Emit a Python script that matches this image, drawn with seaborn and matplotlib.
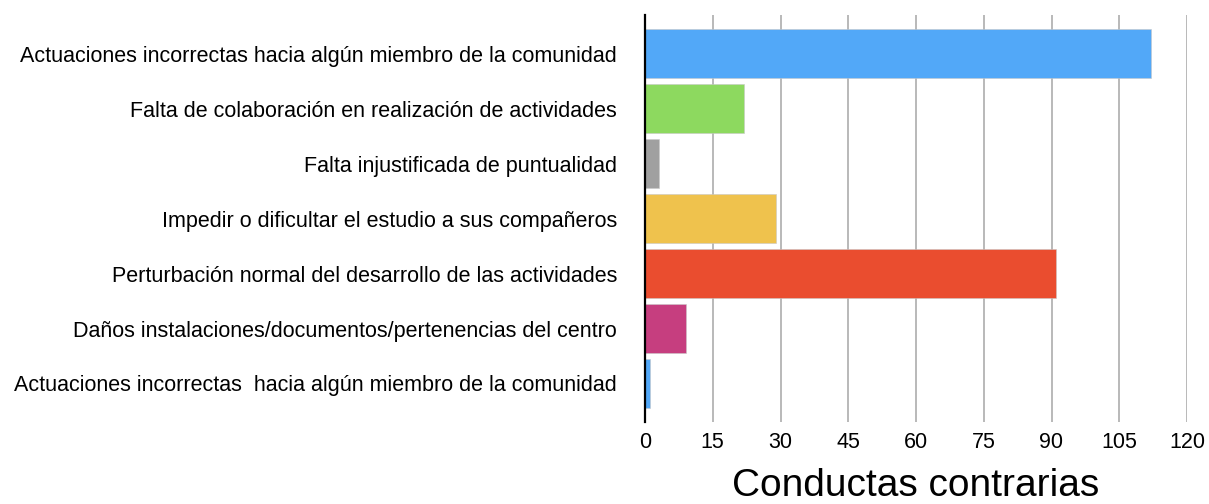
import matplotlib
matplotlib.use("Agg")
import matplotlib.pyplot as plt
import seaborn as sns
import pandas as pd

categories = [
    "Actuaciones incorrectas hacia algún miembro de la comunidad",
    "Falta de colaboración en realización de actividades",
    "Falta injustificada de puntualidad",
    "Impedir o dificultar el estudio a sus compañeros",
    "Perturbación normal del desarrollo de las actividades",
    "Daños instalaciones/documentos/pertenencias del centro",
    "Actuaciones incorrectas  hacia algún miembro de la comunidad",
]
values = [112, 22, 3, 29, 91, 9, 1]
colors = ["#52A8F8", "#8DD95F", "#A0A0A0", "#EFC24D", "#EA4D2F", "#C63E7F", "#52A8F8"]
xticks = [0, 15, 30, 45, 60, 75, 90, 105, 120]
xlabel = "Conductas contrarias"

sns.set_theme(style="white")
plt.rcParams["font.family"] = ["Liberation Sans", "DejaVu Sans"]

df = pd.DataFrame({"cat": categories, "val": values})

fig = plt.figure(figsize=(12.09, 5.04), dpi=100)
ax = fig.add_axes([645 / 1209, 1 - 422 / 504, (1187 - 645) / 1209, (422 - 15) / 504])

sns.barplot(data=df, y="cat", x="val", hue="cat", palette=colors, order=categories,
            hue_order=categories, legend=False, width=0.89, ax=ax,
            edgecolor="#c8c8c8", linewidth=0.4, saturation=1)

ax.set_xlim(0, 120)
ax.set_ylim(6.7, -0.7)
ax.set_xticks(xticks)
ax.set_xticklabels([str(t) for t in xticks])
ax.grid(axis="x", color="#b3b3b3", linewidth=1.3)
ax.grid(axis="y", visible=False)
ax.set_axisbelow(True)
for s in ["top", "right", "bottom"]:
    ax.spines[s].set_visible(False)
ax.spines["left"].set_color("black")
ax.spines["left"].set_linewidth(1.6)
ax.spines["left"].set_zorder(5)
ax.tick_params(axis="x", length=0, pad=7, labelsize=15.5, colors="black")
ax.tick_params(axis="y", length=0, pad=20, labelsize=15.5, colors="black")
ax.set_ylabel("")
ax.set_xlabel(xlabel, fontsize=28, labelpad=11, color="black")

fig.savefig("out.png", dpi=100)
